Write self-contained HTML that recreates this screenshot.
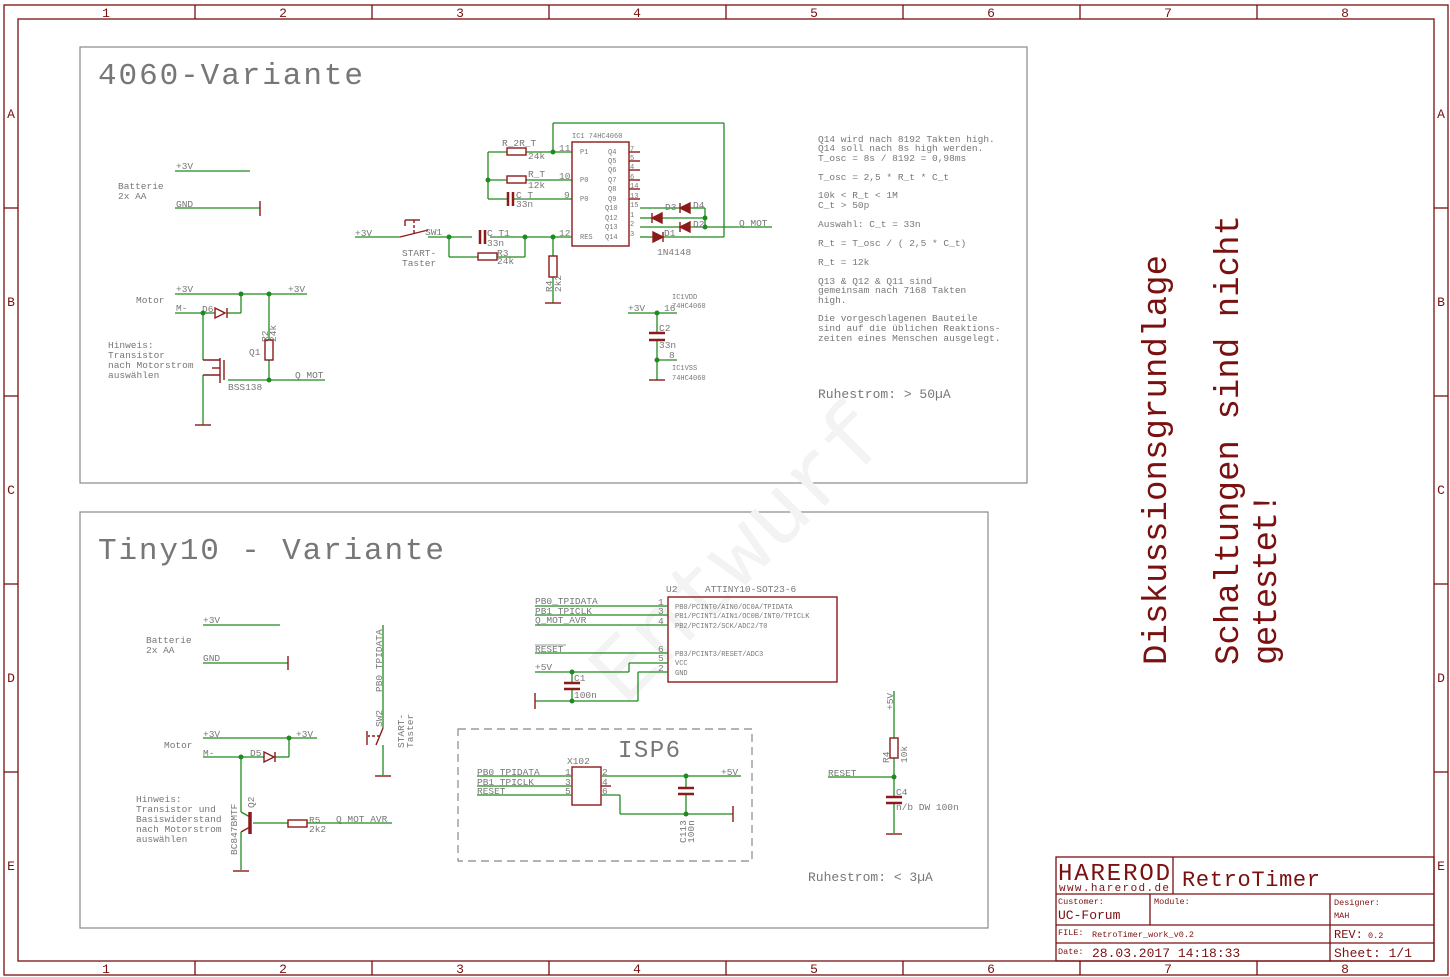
<!DOCTYPE html>
<html><head><meta charset="utf-8"><style>
html,body{margin:0;padding:0;background:#fff}
svg{display:block}
text{font-family:"Liberation Mono","DejaVu Sans Mono",monospace}
.f{stroke:#7a1010;fill:none;stroke-width:1.3}
.w{stroke:#1f8a1f;fill:none;stroke-width:1.3}
.c{stroke:#8b1a1a;fill:none;stroke-width:1.4}
.cf{fill:#8b1a1a}
.d{fill:#1f8a1f}
.g{fill:#777}
.r{fill:#7a1010}
</style></head><body>
<svg width="1450" height="977" viewBox="0 0 1450 977" xmlns="http://www.w3.org/2000/svg">
<!-- frame -->
<rect x="4" y="5" width="1444" height="970" class="f"/>
<rect x="18" y="19" width="1416" height="942" class="f"/>
<g class="f">
<line x1="195" y1="5" x2="195" y2="19"/><line x1="372" y1="5" x2="372" y2="19"/><line x1="549" y1="5" x2="549" y2="19"/><line x1="726" y1="5" x2="726" y2="19"/><line x1="903" y1="5" x2="903" y2="19"/><line x1="1080" y1="5" x2="1080" y2="19"/><line x1="1257" y1="5" x2="1257" y2="19"/>
<line x1="195" y1="961" x2="195" y2="975"/><line x1="372" y1="961" x2="372" y2="975"/><line x1="549" y1="961" x2="549" y2="975"/><line x1="726" y1="961" x2="726" y2="975"/><line x1="903" y1="961" x2="903" y2="975"/><line x1="1080" y1="961" x2="1080" y2="975"/><line x1="1257" y1="961" x2="1257" y2="975"/>
<line x1="4" y1="208" x2="18" y2="208"/><line x1="4" y1="396" x2="18" y2="396"/><line x1="4" y1="584" x2="18" y2="584"/><line x1="4" y1="772" x2="18" y2="772"/>
<line x1="1434" y1="208" x2="1448" y2="208"/><line x1="1434" y1="396" x2="1448" y2="396"/><line x1="1434" y1="584" x2="1448" y2="584"/><line x1="1434" y1="772" x2="1448" y2="772"/>
</g>
<g class="r" font-size="13" text-anchor="middle">
<text x="106" y="17">1</text><text x="283" y="17">2</text><text x="460" y="17">3</text><text x="637" y="17">4</text><text x="814" y="17">5</text><text x="991" y="17">6</text><text x="1168" y="17">7</text><text x="1345" y="17">8</text>
<text x="106" y="973">1</text><text x="283" y="973">2</text><text x="460" y="973">3</text><text x="637" y="973">4</text><text x="814" y="973">5</text><text x="991" y="973">6</text><text x="1168" y="973">7</text><text x="1345" y="973">8</text>
<text x="11" y="118">A</text><text x="11" y="306">B</text><text x="11" y="494">C</text><text x="11" y="682">D</text><text x="11" y="870">E</text>
<text x="1441" y="118">A</text><text x="1441" y="306">B</text><text x="1441" y="494">C</text><text x="1441" y="682">D</text><text x="1441" y="870">E</text>
</g>

<!-- boxes -->
<rect x="80" y="47" width="947" height="436" fill="none" stroke="#888" stroke-width="1.2"/>
<rect x="80" y="512" width="908" height="416" fill="none" stroke="#888" stroke-width="1.2"/>
<rect x="458" y="729" width="294" height="132" fill="none" stroke="#888" stroke-width="1.2" stroke-dasharray="8,5"/>
<text x="98" y="84" class="g" font-size="31" textLength="265">4060-Variante</text>
<text x="98" y="559" class="g" font-size="31" textLength="346">Tiny10 - Variante</text>
<text x="618" y="757" class="g" font-size="24" textLength="62">ISP6</text>
<text x="560" y="650" transform="rotate(-45 660 600)" fill="#f3f3f3" font-size="90">Entwurf</text>

<!-- ============ TOP: Batterie ============ -->
<g class="g" font-size="9.5">
<text x="118" y="189">Batterie</text><text x="118" y="199">2x AA</text>
<text x="176" y="169">+3V</text><text x="176" y="207">GND</text>
<text x="136" y="303">Motor</text>
<text x="176" y="292">+3V</text><text x="288" y="292">+3V</text><text x="176" y="311">M-</text>
<text x="202" y="312">D6</text>
<text x="108" y="348">Hinweis:</text><text x="108" y="358">Transistor</text><text x="108" y="368">nach Motorstrom</text><text x="108" y="378">auswählen</text>
<text x="249" y="355">Q1</text><text x="228" y="390">BSS138</text><text x="295" y="378">Q MOT</text>
<text transform="translate(268,342) rotate(-90)">R2</text><text transform="translate(276,342) rotate(-90)">24k</text>
</g>
<g class="w">
<line x1="175" y1="171" x2="250" y2="171"/>
<line x1="175" y1="208" x2="260" y2="208"/>
<line x1="175" y1="294" x2="307" y2="294"/>
<line x1="175" y1="313" x2="215" y2="313"/><line x1="227" y1="313" x2="241" y2="313"/><line x1="241" y1="313" x2="241" y2="294"/>
<line x1="269" y1="294" x2="269" y2="340"/><line x1="269" y1="360" x2="269" y2="380"/>
<line x1="228" y1="380" x2="325" y2="380"/>
<line x1="203" y1="313" x2="203" y2="360"/><line x1="203" y1="375" x2="203" y2="425"/>
</g>
<g class="c">
<line x1="260" y1="201" x2="260" y2="216"/>
<rect x="265" y="340" width="8" height="20"/>
<polygon points="215,308 215,318 225,313" /><line x1="227" y1="308" x2="227" y2="318"/>
<line x1="224" y1="360" x2="224" y2="380"/><line x1="220" y1="358" x2="220" y2="383"/>
<line x1="203" y1="360" x2="220" y2="360"/><line x1="203" y1="375" x2="220" y2="375"/><line x1="212" y1="368" x2="220" y2="368"/>
<line x1="195" y1="425" x2="211" y2="425"/>
</g>
<g class="d"><circle cx="241" cy="294" r="2.5"/><circle cx="269" cy="294" r="2.5"/><circle cx="203" cy="313" r="2.5"/><circle cx="269" cy="380" r="2.5"/></g>

<!-- ============ TOP: IC1 ============ -->
<g class="w">
<line x1="355" y1="237" x2="400" y2="237"/><line x1="428" y1="237" x2="472" y2="237"/><line x1="490" y1="237" x2="572" y2="237"/>
<line x1="449" y1="237" x2="449" y2="257"/><line x1="449" y1="257" x2="478" y2="257"/><line x1="497" y1="257" x2="525" y2="257"/><line x1="525" y1="257" x2="525" y2="237"/>
<line x1="553" y1="237" x2="553" y2="256"/><line x1="553" y1="277" x2="553" y2="303"/>
<line x1="488" y1="152" x2="507" y2="152"/><line x1="526" y1="152" x2="572" y2="152"/>
<line x1="488" y1="152" x2="488" y2="199"/>
<line x1="488" y1="180" x2="507" y2="180"/><line x1="526" y1="180" x2="572" y2="180"/>
<line x1="488" y1="199" x2="508" y2="199"/><line x1="513" y1="199" x2="572" y2="199"/>
<line x1="553" y1="152" x2="553" y2="123"/><line x1="553" y1="123" x2="724" y2="123"/><line x1="724" y1="123" x2="724" y2="237"/>
<line x1="640" y1="208" x2="680" y2="208"/><line x1="690" y1="208" x2="705" y2="208"/>
<line x1="640" y1="218" x2="652" y2="218"/><line x1="662" y1="218" x2="705" y2="218"/>
<line x1="640" y1="227" x2="680" y2="227"/><line x1="690" y1="227" x2="772" y2="227"/>
<line x1="640" y1="237" x2="653" y2="237"/><line x1="663" y1="237" x2="724" y2="237"/>
<line x1="705" y1="208" x2="705" y2="227"/>
<line x1="628" y1="313" x2="677" y2="313"/>
<line x1="657" y1="313" x2="657" y2="333"/><line x1="657" y1="340" x2="657" y2="380"/>
<line x1="657" y1="360" x2="677" y2="360"/>
</g>
<g class="c">
<rect x="572" y="142" width="57" height="104"/>
<line x1="629" y1="152" x2="640" y2="152"/><line x1="629" y1="161" x2="640" y2="161"/><line x1="629" y1="170" x2="640" y2="170"/><line x1="629" y1="180" x2="640" y2="180"/><line x1="629" y1="189" x2="640" y2="189"/><line x1="629" y1="199" x2="640" y2="199"/>
<rect x="507" y="148" width="19" height="7"/><rect x="507" y="176" width="19" height="7"/><rect x="478" y="253" width="19" height="7"/>
<rect x="549" y="256" width="8" height="21"/>
<line x1="508" y1="192" x2="508" y2="206" stroke-width="2.5"/><line x1="513" y1="192" x2="513" y2="206" stroke-width="2.5"/>
<line x1="480" y1="230" x2="480" y2="244" stroke-width="2.5"/><line x1="485" y1="230" x2="485" y2="244" stroke-width="2.5"/>
<line x1="400" y1="237" x2="428" y2="230"/><line x1="414" y1="233" x2="414" y2="220" stroke-dasharray="3,2"/><line x1="405" y1="220" x2="420" y2="220"/><line x1="405" y1="220" x2="405" y2="226"/>
<line x1="545" y1="303" x2="561" y2="303"/>
<polygon points="690,203 690,213 680,208" class="cf"/><line x1="680" y1="203" x2="680" y2="213"/>
<polygon points="662,213 662,223 652,218" class="cf"/><line x1="652" y1="213" x2="652" y2="223"/>
<polygon points="690,222 690,232 680,227" class="cf"/><line x1="680" y1="222" x2="680" y2="232"/>
<polygon points="653,232 653,242 663,237" class="cf"/><line x1="663" y1="232" x2="663" y2="242"/>
<line x1="649" y1="333" x2="665" y2="333" stroke-width="2.5"/><line x1="649" y1="340" x2="665" y2="340" stroke-width="2.5"/>
<line x1="649" y1="380" x2="665" y2="380"/>
</g>
<g class="d"><circle cx="553" cy="152" r="2.5"/><circle cx="488" cy="180" r="2.5"/><circle cx="449" cy="237" r="2.5"/><circle cx="525" cy="237" r="2.5"/><circle cx="553" cy="237" r="2.5"/><circle cx="705" cy="218" r="2.5"/><circle cx="705" cy="227" r="2.5"/><circle cx="657" cy="313" r="2.5"/><circle cx="657" cy="360" r="2.5"/></g>
<g class="g" font-size="9.5">
<text x="355" y="236">+3V</text><text x="425" y="235">SW1</text><text x="402" y="256">START-</text><text x="402" y="266">Taster</text>
<text x="502" y="146">R_2R_T</text><text x="528" y="159">24k</text><text x="528" y="177">R_T</text><text x="528" y="188">12k</text>
<text x="516" y="198">C_T</text><text x="516" y="207">33n</text><text x="487" y="236">C_T1</text><text x="487" y="246">33n</text>
<text x="497" y="256">R3</text><text x="497" y="264">24k</text>
<text transform="translate(552,292) rotate(-90)">R4</text><text transform="translate(561,292) rotate(-90)">2k2</text>
<text x="559" y="151">11</text><text x="559" y="179">10</text><text x="564" y="198">9</text><text x="559" y="236">12</text>
<text x="657" y="255">1N4148</text><text x="739" y="226">Q MOT</text>
<text x="628" y="311">+3V</text><text x="664" y="311">16</text><text x="659" y="331">C2</text><text x="659" y="348">33n</text><text x="669" y="358">8</text>
<text x="665" y="210">D3</text><text x="693" y="208">D4</text><text x="693" y="227">D2</text><text x="664" y="236">D1</text>
</g>
<g class="g" font-size="7">
<text x="572" y="138">IC1  74HC4060</text>
<text x="580" y="154">P1</text><text x="580" y="182">P0</text><text x="580" y="201">P0</text><text x="580" y="239">RES</text>
<text x="608" y="154">Q4</text><text x="608" y="163">Q5</text><text x="608" y="172">Q6</text><text x="608" y="182">Q7</text><text x="608" y="191">Q8</text><text x="608" y="201">Q9</text><text x="605" y="210">Q10</text><text x="605" y="220">Q12</text><text x="605" y="229">Q13</text><text x="605" y="239">Q14</text>
<text x="630" y="151">7</text><text x="630" y="160">5</text><text x="630" y="169">4</text><text x="630" y="179">6</text><text x="630" y="188">14</text><text x="630" y="198">13</text><text x="630" y="207">15</text><text x="630" y="217">1</text><text x="630" y="226">2</text><text x="630" y="236">3</text>
<text x="672" y="299">IC1VDD</text><text x="672" y="308">74HC4060</text><text x="672" y="370">IC1VSS</text><text x="672" y="380">74HC4060</text>
</g>
<g class="g" font-size="9.5">
<text x="818" y="142">Q14 wird nach 8192 Takten high.</text>
<text x="818" y="151">Q14 soll nach 8s high werden.</text>
<text x="818" y="161">T_osc = 8s / 8192 = 0,98ms</text>
<text x="818" y="180">T_osc = 2,5 * R_t * C_t</text>
<text x="818" y="198">10k &lt; R_t &lt; 1M</text>
<text x="818" y="208">C_t &gt; 50p</text>
<text x="818" y="227">Auswahl: C_t = 33n</text>
<text x="818" y="246">R_t = T_osc / ( 2,5 * C_t)</text>
<text x="818" y="265">R_t = 12k</text>
<text x="818" y="284">Q13 &amp; Q12 &amp; Q11 sind</text>
<text x="818" y="293">gemeinsam nach 7168 Takten</text>
<text x="818" y="303">high.</text>
<text x="818" y="321">Die vorgeschlagenen Bauteile</text>
<text x="818" y="331">sind auf die üblichen Reaktions-</text>
<text x="818" y="341">zeiten eines Menschen ausgelegt.</text>
</g>
<text x="818" y="398" class="g" font-size="13">Ruhestrom: &gt; 50µA</text>

<!-- ============ BOTTOM LEFT ============ -->
<g class="g" font-size="9.5">
<text x="146" y="643">Batterie</text><text x="146" y="653">2x AA</text>
<text x="203" y="623">+3V</text><text x="203" y="661">GND</text>
<text x="164" y="748">Motor</text><text x="203" y="737">+3V</text><text x="296" y="737">+3V</text><text x="203" y="756">M-</text><text x="250" y="756">D5</text>
<text x="136" y="802">Hinweis:</text><text x="136" y="812">Transistor und</text><text x="136" y="822">Basiswiderstand</text><text x="136" y="832">nach Motorstrom</text><text x="136" y="842">auswählen</text>
<text x="309" y="823">R5</text><text x="309" y="832">2k2</text><text x="336" y="822">Q_MOT_AVR</text>
<text transform="translate(237,855) rotate(-90)">BC847BMTF</text><text transform="translate(254,808) rotate(-90)">Q2</text>
<text transform="translate(382,692) rotate(-90)">PB0_TPIDATA</text><text transform="translate(382,727) rotate(-90)">SW2</text>
<text transform="translate(404,748) rotate(-90)">START-</text><text transform="translate(413,748) rotate(-90)">Taster</text>
</g>
<g class="w">
<line x1="203" y1="625" x2="280" y2="625"/><line x1="203" y1="663" x2="288" y2="663"/>
<line x1="203" y1="738" x2="317" y2="738"/>
<line x1="203" y1="757" x2="264" y2="757"/><line x1="275" y1="757" x2="289" y2="757"/><line x1="289" y1="757" x2="289" y2="738"/>
<line x1="241" y1="757" x2="241" y2="812"/><line x1="241" y1="812" x2="250" y2="817"/>
<line x1="241" y1="870" x2="241" y2="832"/>
<line x1="253" y1="823" x2="288" y2="823"/><line x1="307" y1="823" x2="392" y2="823"/>
<line x1="383" y1="625" x2="383" y2="728"/><line x1="383" y1="745" x2="383" y2="775"/>
</g>
<g class="c">
<line x1="288" y1="656" x2="288" y2="670"/>
<polygon points="264,752 264,762 274,757"/><line x1="275" y1="752" x2="275" y2="762"/>
<line x1="250" y1="812" x2="250" y2="834" stroke-width="3.5"/>
<line x1="241" y1="832" x2="250" y2="827"/>
<rect x="288" y="820" width="19" height="7"/>
<line x1="233" y1="871" x2="249" y2="871"/>
<line x1="383" y1="728" x2="376" y2="745"/><line x1="380" y1="736" x2="368" y2="736" stroke-dasharray="3,2"/><line x1="367" y1="731" x2="367" y2="745"/>
<line x1="375" y1="776" x2="391" y2="776"/>
</g>
<g class="d"><circle cx="289" cy="738" r="2.5"/><circle cx="241" cy="757" r="2.5"/></g>

<!-- ============ U2 ============ -->
<rect x="668" y="597" width="169" height="85" class="c"/>
<g class="w">
<line x1="535" y1="606" x2="668" y2="606"/><line x1="535" y1="615" x2="668" y2="615"/><line x1="535" y1="625" x2="668" y2="625"/>
<line x1="535" y1="653" x2="668" y2="653"/>
<line x1="535" y1="672" x2="629" y2="672"/><line x1="629" y1="672" x2="629" y2="663"/><line x1="629" y1="663" x2="668" y2="663"/>
<line x1="638" y1="672" x2="668" y2="672"/><line x1="638" y1="672" x2="638" y2="701"/><line x1="638" y1="701" x2="535" y2="701"/>
<line x1="572" y1="672" x2="572" y2="683"/><line x1="572" y1="689" x2="572" y2="701"/>
</g>
<g class="c"><line x1="535" y1="693" x2="535" y2="709"/><line x1="564" y1="683" x2="580" y2="683" stroke-width="2.5"/><line x1="564" y1="689" x2="580" y2="689" stroke-width="2.5"/></g>
<g class="d"><circle cx="572" cy="672" r="2.5"/><circle cx="572" cy="701" r="2.5"/></g>
<g class="g" font-size="9.5">
<text x="535" y="604">PB0_TPIDATA</text><text x="535" y="614">PB1_TPICLK</text><text x="535" y="623">Q_MOT_AVR</text><text x="535" y="652">RESET</text><text x="535" y="670">+5V</text>
<text x="574" y="681">C1</text><text x="574" y="698">100n</text>
<text x="666" y="592">U2</text><text x="705" y="592">ATTINY10-SOT23-6</text>
<text x="658" y="605">1</text><text x="658" y="614">3</text><text x="658" y="624">4</text><text x="658" y="652">6</text><text x="658" y="661">5</text><text x="658" y="671">2</text>
</g>
<line x1="535" y1="645" x2="566" y2="645" stroke="#777" stroke-width="0.8"/>
<g class="g" font-size="7">
<text x="675" y="609">PB0/PCINT0/AIN0/OC0A/TPIDATA</text><text x="675" y="618">PB1/PCINT1/AIN1/OC0B/INT0/TPICLK</text><text x="675" y="628">PB2/PCINT2/SCK/ADC2/T0</text>
<text x="675" y="656">PB3/PCINT3/RESET/ADC3</text><text x="675" y="665">VCC</text><text x="675" y="675">GND</text>
</g>

<!-- ISP -->
<rect x="572" y="767" width="29" height="38" class="c"/>
<g class="w">
<line x1="477" y1="776" x2="572" y2="776"/><line x1="477" y1="786" x2="572" y2="786"/><line x1="477" y1="795" x2="572" y2="795"/>
<line x1="601" y1="776" x2="741" y2="776"/><line x1="601" y1="795" x2="620" y2="795"/><line x1="620" y1="795" x2="620" y2="814"/><line x1="620" y1="814" x2="733" y2="814"/>
<line x1="686" y1="776" x2="686" y2="788"/><line x1="686" y1="794" x2="686" y2="814"/>
</g>
<g class="c"><line x1="601" y1="786" x2="611" y2="786"/><line x1="733" y1="806" x2="733" y2="822"/><line x1="678" y1="788" x2="694" y2="788" stroke-width="2.5"/><line x1="678" y1="794" x2="694" y2="794" stroke-width="2.5"/></g>
<g class="d"><circle cx="686" cy="776" r="2.5"/><circle cx="686" cy="814" r="2.5"/></g>
<g class="g" font-size="9.5">
<text x="477" y="775">PB0_TPIDATA</text><text x="477" y="785">PB1_TPICLK</text><text x="477" y="794">RESET</text>
<text x="567" y="764">X102</text><text x="721" y="775">+5V</text>
<text x="565" y="775">1</text><text x="565" y="785">3</text><text x="565" y="794">5</text><text x="602" y="775">2</text><text x="602" y="785">4</text><text x="602" y="794">6</text>
<text transform="translate(686,843) rotate(-90)">C113</text><text transform="translate(694,843) rotate(-90)">100n</text>
</g>

<!-- R4 C4 -->
<g class="w">
<line x1="894" y1="691" x2="894" y2="738"/><line x1="894" y1="758" x2="894" y2="797"/><line x1="894" y1="803" x2="894" y2="833"/>
<line x1="828" y1="777" x2="894" y2="777"/>
</g>
<g class="c"><rect x="890" y="738" width="8" height="20"/><line x1="886" y1="797" x2="902" y2="797" stroke-width="2.5"/><line x1="886" y1="803" x2="902" y2="803" stroke-width="2.5"/><line x1="886" y1="834" x2="902" y2="834"/></g>
<circle cx="894" cy="777" r="2.5" class="d"/>
<g class="g" font-size="9.5">
<text x="828" y="776">RESET</text><text x="896" y="795">C4</text><text x="896" y="810">n/b DW 100n</text>
<text transform="translate(893,710) rotate(-90)">+5V</text><text transform="translate(889,763) rotate(-90)">R4</text><text transform="translate(907,763) rotate(-90)">10k</text>
</g>
<text x="808" y="881" class="g" font-size="13">Ruhestrom: &lt; 3µA</text>

<!-- big red -->
<g class="r" font-size="34">
<text transform="translate(1166,665) rotate(-90)" textLength="410">Diskussionsgrundlage</text>
<text transform="translate(1238,665) rotate(-90)" textLength="450">Schaltungen sind nicht</text>
<text transform="translate(1276,665) rotate(-90)" textLength="172">getestet!</text>
</g>

<!-- title block -->
<g class="f">
<rect x="1056" y="857" width="378" height="104"/>
<line x1="1056" y1="894" x2="1434" y2="894"/><line x1="1056" y1="925" x2="1434" y2="925"/><line x1="1056" y1="943" x2="1434" y2="943"/>
<line x1="1173" y1="857" x2="1173" y2="894"/><line x1="1150" y1="894" x2="1150" y2="925"/><line x1="1330" y1="894" x2="1330" y2="961"/>
</g>
<g class="r">
<text x="1058" y="880" font-size="24" textLength="112">HAREROD</text>
<text x="1059" y="891" font-size="11" textLength="110">www.harerod.de</text>
<text x="1182" y="886" font-size="22" textLength="138">RetroTimer</text>
<text x="1058" y="904" font-size="8.5">Customer:</text><text x="1154" y="904" font-size="8.5">Module:</text><text x="1334" y="905" font-size="8.5">Designer:</text>
<text x="1058" y="919" font-size="13">UC-Forum</text><text x="1334" y="918" font-size="8.5">MAH</text>
<text x="1058" y="935" font-size="8.5">FILE:</text><text x="1092" y="937" font-size="8.5">RetroTimer_work_v0.2</text>
<text x="1334" y="938" font-size="12">REV:</text><text x="1368" y="938" font-size="8.5">0.2</text>
<text x="1058" y="954" font-size="8.5">Date:</text><text x="1092" y="957" font-size="13">28.03.2017 14:18:33</text>
<text x="1334" y="957" font-size="13">Sheet: 1/1</text>
</g>
</svg>
</body></html>
